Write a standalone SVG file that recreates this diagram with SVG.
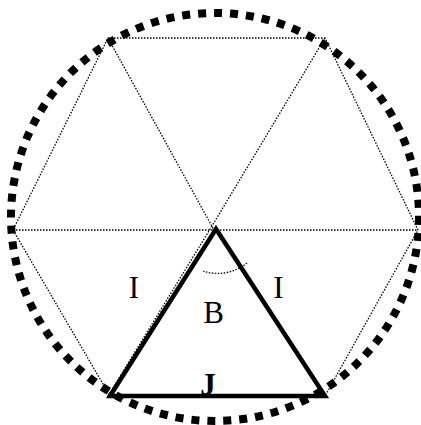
<svg xmlns="http://www.w3.org/2000/svg" width="421" height="425" viewBox="0 0 421 425">
<style>
.dot{fill:none;stroke:#000;stroke-width:1.3;stroke-dasharray:1.5 1.5}
.lbl{font-family:"Liberation Serif","Times New Roman",serif;font-size:31px;fill:#000;text-anchor:middle}
</style>
<rect width="421" height="425" fill="#fff"/>
<g id="circle">
<circle cx="215" cy="217" r="204" fill="none" stroke="#000" stroke-width="8" stroke-dasharray="8 8"/>
</g>
<g id="connectors">
<polygon class="dot" points="108,38 325,38 418,230 325,396 110,396 13,230"/>
<line class="dot" x1="13" y1="230" x2="418" y2="230"/>
<line class="dot" x1="108" y1="38" x2="214" y2="230"/>
<line class="dot" x1="325" y1="38" x2="212" y2="226"/>
<line class="dot" x1="212" y1="226" x2="108" y2="396"/>
<path class="dot" d="M203,271 A46,46 0 0 0 248,262"/>
</g>
<g id="triangle">
<polygon points="216,229 110,396 325,396" fill="none" stroke="#000" stroke-width="4.5" stroke-linejoin="miter"/>
</g>
<g id="labels">
<text class="lbl" x="134" y="298">I</text>
<text class="lbl" x="278.5" y="298">I</text>
<text class="lbl" x="213.5" y="323">B</text>
<text class="lbl" x="208" y="395" font-weight="bold">J</text>
</g>
</svg>
